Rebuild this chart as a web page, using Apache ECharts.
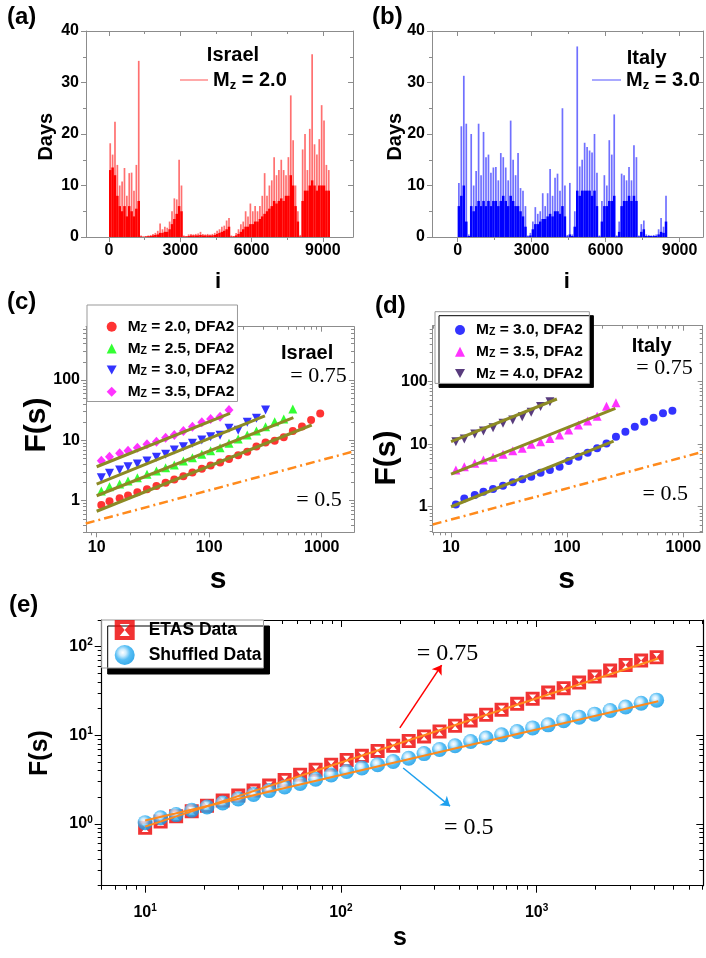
<!DOCTYPE html>
<html>
<head>
<meta charset="utf-8">
<script src="https://cdn.jsdelivr.net/npm/echarts@6/dist/echarts.min.js"></script>
<style>
html, body { margin: 0; padding: 0; background: #fff; }
#chart { width: 706px; height: 958px; }
</style>
</head>
<body>
<div id="chart"></div>
<script>
// (a),(b): inter-event times, summarised per bin of 100 events
var binWidth = 100;
var israelPeak = [18.2, 16, 22.4, 14, 10, 10.8, 13.4, 8, 12.4, 12.5, 9, 14, 34.2,
    0.3, 0.1, 0.2, 0.3, 0.4, 0.6, 0.8, 1.2,
    2.6, 1.5, 2.0, 1.8, 3.0, 5.0, 7.5, 7.3, 15, 10,
    0.3, 0.2, 0.5, 0.6, 0.5, 0.6, 0.7, 1.0, 0.6, 0.5, 0.6, 0.5, 0.6, 0.8, 1.2, 1.5, 2.0, 2.2, 3.2, 3.7,
    0.3, 0.2, 0.8, 1.5, 2.5, 3.0, 5.0, 4.0, 6.5, 5.0, 6.0, 5.0,
    6, 8, 12.4, 8, 10, 11, 15.5, 12, 13, 15, 13, 12, 15.5, 27.5, 18.8, 10, 5, 0.4,
    17, 20, 13, 21, 35.5, 18, 16, 19, 25.6, 22.6, 14, 13];
var israelBody = [13, 13.5, 12, 8, 6, 5, 6, 4, 6, 5, 4, 5.5, 7,
    0.1, 0.05, 0.1, 0.15, 0.2, 0.3, 0.4, 0.5,
    0.8, 0.8, 1.0, 1.0, 1.5, 2.5, 3.5, 4.5, 6, 5,
    0.1, 0.1, 0.2, 0.3, 0.3, 0.3, 0.3, 0.4, 0.3, 0.3, 0.3, 0.3, 0.3, 0.4, 0.6, 0.8, 1.0, 1.2, 1.5, 2.0,
    0.1, 0.1, 0.3, 0.6, 1.0, 1.5, 2.0, 2.0, 2.5, 2.5, 3.0, 3.0,
    3.5, 4, 4.5, 5, 5.5, 6, 7, 6.5, 7, 7.5, 7, 8, 8, 12, 10, 6, 3, 0.1,
    7, 9, 9, 10, 11, 10, 9, 10, 10, 10, 9, 9];
var italyPeak = [10.5, 21.5, 31.3, 22, 0.5, 20, 10, 12.8, 22, 12,
    20.4, 15.5, 16, 12.5, 13.5, 13.6, 11, 16.3, 15.5, 13.5,
    11, 22.6, 15, 12, 16.3, 9.5, 9, 6, 0.3, 0.8,
    3, 5.8, 4.5, 5, 8.5, 6, 8.5, 13.2, 8, 11.5,
    12.3, 9, 25, 10, 0.4, 10.5, 0.5, 5, 37, 13.7,
    15, 18.3, 17.5, 16.8, 16.4, 20, 12.5, 0.3, 7, 12,
    10, 18.8, 16, 23.8, 0.3, 3, 12.3, 12, 11, 13.6,
    11, 17.8, 15.5, 0.3, 2.5, 3.2, 0.5, 0.4, 0.3, 0.4,
    0.5, 1.5, 3.7, 2, 8];
var italyBody = [6, 8, 10, 3, 0.2, 6, 5, 6, 7, 6,
    7, 6, 7, 6, 7, 7, 6, 7, 8, 7,
    6, 8, 7, 6, 6, 5, 4, 2, 0.1, 0.3,
    1.5, 2.5, 2.5, 3, 3.5, 3.5, 4, 4.5, 4, 5,
    5, 4.5, 6, 4, 0.1, 0.5, 0.2, 2, 9, 8,
    9, 9, 9, 9, 8, 9, 6, 0.1, 3, 6,
    6, 7, 7, 8, 0.1, 1, 6, 7, 7, 8,
    7, 8, 7, 0.1, 1, 1.5, 0.2, 0.2, 0.2, 0.2,
    0.2, 0.5, 1, 0.8, 3];

// (c),(d): DFA2 fluctuation functions
var sGrid = [11, 13, 16, 19, 23, 28, 34, 41, 49, 59, 71, 86, 103, 125, 150, 181, 218, 263, 317, 382, 460, 554, 668, 805, 970];
var fIsrael20 = [0.85, 0.98, 1.1, 1.22, 1.38, 1.55, 1.75, 1.98, 2.25, 2.55, 2.95, 3.4, 3.85, 4.3, 4.9, 5.7, 6.5, 7.9, 9.2, 9.9, 11.3, 14.3, 17, 21.8, 28];
var fIsrael25 = [1.45, 1.71, 1.89, 2.12, 2.41, 2.74, 3.11, 3.53, 3.91, 4.55, 5.17, 5.88, 6.75, 7.57, 8.94, 10.5, 12.3, 14.3, 16.9, 20.4, 22.6, 33];
var fIsrael30 = [2.41, 2.85, 3.23, 3.66, 4.06, 4.55, 5.25, 5.88, 6.93, 7.87, 8.94, 10.2, 11.5, 12.2, 15.9, 14.8, 20, 23.3, 31.9];
var fIsrael35 = [4.61, 5.37, 6.1, 6.75, 7.57, 8.61, 9.5, 11.1, 12.3, 14.3, 16.9, 20, 22.6, 24.7, 31.9];
var fitIsrael20 = [[10, 0.67], [815, 18]];
var fitIsrael25 = [[10, 1.21], [560, 23.8]];
var fitIsrael30 = [[10, 1.89], [313, 25.4]];
var fitIsrael35 = [[10, 3.66], [153, 28.1]];
var halfIsrael = [[8, 0.42], [1940, 6.6]];

var fItaly30 = [1.09, 1.36, 1.54, 1.74, 1.92, 2.17, 2.46, 2.74, 3.02, 3.5, 3.87, 4.37, 5.38, 6.31, 7.31, 8.6, 10.3, 13.2, 15.8, 19.1, 22.9, 26.5, 31.2, 34.4];
var fItaly35 = [3.87, 4.37, 4.95, 5.58, 6.17, 6.89, 7.87, 8.6, 9.96, 11.0, 12.4, 14.0, 16.9, 20.3, 23.5, 28, 40.5, 46];
var fItaly40 = [11, 12.1, 14.6, 16.3, 18.4, 21.6, 24.4, 27.5, 32.4, 40, 48];
var fitItaly30 = [[10, 1.0], [251, 11.2]];
var fitItaly35 = [[10, 3.33], [260, 37.5]];
var fitItaly40 = [[10, 11], [81.5, 52.9]];
var halfItaly = [[6.95, 0.52], [1470, 7.55]];

// (e): ETAS vs shuffled
var sEtas = [10, 12, 14.4, 17.3, 20.7, 24.9, 29.9, 35.8, 43, 51.6, 61.9, 74.3, 89.2, 107, 128, 154, 185,
    222, 266, 319, 383, 460, 552, 662, 795, 954, 1145, 1374, 1648, 1978, 2373, 2848, 3418, 4101];
var fEtas = [0.90, 1.06, 1.22, 1.39, 1.60, 1.83, 2.08, 2.37, 2.70, 3.12, 3.58, 4.08, 4.65, 5.25, 5.85, 6.65, 7.6,
    8.6, 9.7, 11.0, 12.8, 14.7, 17.0, 19.4, 22.6, 25.8, 30.3, 34.0, 39.3, 45.9, 53.7, 62.2, 69.6, 75.9];
var fShuffled = [1.03, 1.17, 1.27, 1.42, 1.55, 1.72, 1.91, 2.14, 2.37, 2.61, 2.85, 3.18, 3.55, 3.9, 4.27, 4.65, 5.05,
    5.5, 6.2, 6.9, 7.6, 8.5, 9.3, 10.1, 11.0, 12.1, 13.1, 14.6, 16.0, 17.3, 19.0, 20.8, 23.0, 24.9];
var fitEtas = [[10, 0.93], [4180, 73.5]];
var fitShuffled = [[10, 1.09], [4180, 24.2]];
var arrowEtas = [[200, 12.1], [327, 62]];
var arrowShuffled = [[208, 4.27], [361, 1.58]];

var FONT = '"Liberation Sans", Arial, sans-serif';
var SERIF = '"Liberation Serif", "Times New Roman", serif';
var GREY = '#8c8c8c';
var OLIVE = '#8c8a24';
var ORANGE = '#ff8a1c';

function pairs(s, f) {
    return f.map(function (v, i) { return [s[i], v]; });
}
function bins(list) {
    return list.map(function (v, i) { return [i * binWidth + binWidth / 2, v]; });
}
function logMinors(lo, hi) {
    var out = [];
    for (var e = -1; e <= 4; e++) {
        for (var k = 2; k <= 9; k++) {
            var v = +(k * Math.pow(10, e)).toPrecision(6);
            if (v >= lo && v <= hi) out.push(v);
        }
    }
    return out;
}
function plainFmt(v) { return String(v); }
function powFmt(v) { return '{b|10}{s|' + Math.round(Math.log(v) / Math.LN10) + '}'; }

var xAxes = [], yAxes = [];
function makeAxis(p, pos, ticks, len, showLine, showLabel) {
    var horiz = pos === 'bottom' || pos === 'top';
    var range = horiz ? p.x : p.y;
    var a = {
        type: p.type, gridIndex: p.grid, position: pos,
        min: range[0], max: range[1],
        axisLine: { show: showLine, onZero: false, lineStyle: { color: p.color, width: p.lineW || 1 } },
        axisTick: { show: true, inside: pos === 'top' || pos === 'right', length: len,
            customValues: ticks, lineStyle: { color: p.color, width: 1 } },
        axisLabel: { show: false },
        splitLine: { show: false }
    };
    if (p.type === 'log') a.logBase = 10;
    if (showLabel) {
        a.axisLabel = {
            show: true, customValues: ticks, margin: horiz ? p.xMargin : p.yMargin,
            color: '#000', fontFamily: FONT, fontWeight: 'bold', fontSize: 16,
            formatter: p.fmt, rich: p.rich
        };
    }
    return a;
}
function frame(p) {
    var ix = xAxes.length, iy = yAxes.length;
    var big = p.major || 5, small = p.minor || 3;
    xAxes.push(makeAxis(p, 'bottom', p.xMajor, big, true, true));
    xAxes.push(makeAxis(p, 'bottom', p.xMinor, small, false, false));
    xAxes.push(makeAxis(p, 'top', p.xMajor, big, true, false));
    xAxes.push(makeAxis(p, 'top', p.xMinor, small, false, false));
    yAxes.push(makeAxis(p, 'left', p.yMajor, big, true, true));
    yAxes.push(makeAxis(p, 'left', p.yMinor, small, false, false));
    yAxes.push(makeAxis(p, 'right', p.yMajor, big, true, false));
    yAxes.push(makeAxis(p, 'right', p.yMinor, small, false, false));
    return { x: ix, y: iy, top: ix + 2 };
}

var fa = frame({ grid: 0, type: 'value', x: [-970, 10270], y: [0, 40],
    xMajor: [0, 3000, 6000, 9000], xMinor: [1500, 4500, 7500],
    yMajor: [0, 10, 20, 30, 40], yMinor: [5, 15, 25, 35],
    color: GREY, xMargin: 6, yMargin: 7, fmt: plainFmt });
var fb = frame({ grid: 1, type: 'value', x: [-1040, 9950], y: [0, 40],
    xMajor: [0, 3000, 6000, 9000], xMinor: [1500, 4500, 7500],
    yMajor: [0, 10, 20, 30, 40], yMinor: [5, 15, 25, 35],
    color: GREY, xMargin: 6, yMargin: 7, fmt: plainFmt });
var fc = frame({ grid: 2, type: 'log', x: [8.04, 1937], y: [0.3, 766],
    xMajor: [10, 100, 1000], xMinor: logMinors(8.04, 1937),
    yMajor: [1, 10, 100], yMinor: logMinors(0.3, 766),
    color: GREY, xMargin: 7, yMargin: 6, fmt: plainFmt });
var fd = frame({ grid: 3, type: 'log', x: [6.95, 1468], y: [0.39, 787],
    xMajor: [10, 100, 1000], xMinor: logMinors(6.95, 1468),
    yMajor: [1, 10, 100], yMinor: logMinors(0.39, 787),
    color: GREY, xMargin: 7, yMargin: 5, fmt: plainFmt });
var powRich = {
    b: { fontSize: 16, fontWeight: 'bold', fontFamily: FONT, lineHeight: 18, color: '#000' },
    s: { fontSize: 10, fontWeight: 'bold', fontFamily: FONT, lineHeight: 10, verticalAlign: 'top', color: '#000' }
};
var fe = frame({ grid: 4, type: 'log', x: [6.0, 7100], y: [0.2, 200],
    xMajor: [10, 100, 1000], xMinor: logMinors(6.0, 7100),
    yMajor: [1, 10, 100], yMinor: logMinors(0.2, 200),
    color: '#000', lineW: 1.2, major: 7, minor: 4, xMargin: 18, yMargin: 9, fmt: powFmt, rich: powRich });

function scatter(name, f, s, xy, symbol, size, color, extra) {
    var o = { type: 'scatter', name: name, xAxisIndex: xy.x, yAxisIndex: xy.y,
        symbol: symbol, symbolSize: size, itemStyle: { color: color }, data: pairs(s, f) };
    for (var k in extra || {}) o[k] = extra[k];
    return o;
}
function fitLine(data, xy, color, width, type) {
    return { type: 'line', xAxisIndex: xy.x, yAxisIndex: xy.y, data: data, symbol: 'none',
        lineStyle: { color: color, width: width, type: type || 'solid' }, z: 3 };
}

var DOWN = 'path://M0,0L10,0L5,9Z';
var ETAS_SYM = 'path://M0,0L20,0L20,20L0,20Z M5,4L10,10L15,4Z M5,16L15,16L10,10Z';
var ballColor = { type: 'radial', x: 0.4, y: 0.38, r: 0.62, colorStops: [
    { offset: 0, color: '#ffffff' }, { offset: 0.28, color: '#bfe6fc' },
    { offset: 0.6, color: '#2eaef2' }, { offset: 1, color: '#0a98e6' }] };

var series = [
    { type: 'bar', name: 'israel', xAxisIndex: fa.top, yAxisIndex: fa.y, barWidth: 1.7,
      data: bins(israelPeak), itemStyle: { color: '#ff7070' } },
    { type: 'bar', name: 'israelBody', xAxisIndex: fa.x, yAxisIndex: fa.y, barWidth: 2.5,
      data: bins(israelBody), itemStyle: { color: '#ff0000' } },
    { type: 'bar', name: 'italy', xAxisIndex: fb.top, yAxisIndex: fb.y, barWidth: 1.7,
      data: bins(italyPeak), itemStyle: { color: '#7070ff' } },
    { type: 'bar', name: 'italyBody', xAxisIndex: fb.x, yAxisIndex: fb.y, barWidth: 2.5,
      data: bins(italyBody), itemStyle: { color: '#0000ff' } },

    scatter('c20', fIsrael20, sGrid, fc, 'circle', 8, '#ff0000'),
    scatter('c25', fIsrael25, sGrid, fc, 'triangle', 9, '#00ff00'),
    scatter('c30', fIsrael30, sGrid, fc, DOWN, 9, '#0000ff'),
    scatter('c35', fIsrael35, sGrid, fc, 'diamond', [9, 10], '#ff00ff'),
    fitLine(halfIsrael, fc, ORANGE, 2.5, [9, 4, 2, 4]),
    fitLine(fitIsrael20, fc, OLIVE, 3),
    fitLine(fitIsrael25, fc, OLIVE, 3),
    fitLine(fitIsrael30, fc, OLIVE, 3),
    fitLine(fitIsrael35, fc, OLIVE, 3),

    scatter('d30', fItaly30, sGrid, fd, 'circle', 8, '#0000ff'),
    scatter('d35', fItaly35, sGrid, fd, 'triangle', 9, '#ff00ff'),
    scatter('d40', fItaly40, sGrid, fd, DOWN, 9, '#2e0a5c'),
    fitLine(halfItaly, fd, ORANGE, 2.5, [9, 4, 2, 4]),
    fitLine(fitItaly30, fd, OLIVE, 3),
    fitLine(fitItaly35, fd, OLIVE, 3),
    fitLine(fitItaly40, fd, OLIVE, 3),

    scatter('ETAS Data', fEtas, sEtas, fe, ETAS_SYM, 14, '#ee0000'),
    scatter('Shuffled Data', fShuffled, sEtas, fe, 'circle', 15, ballColor),
    fitLine(fitEtas, fe, ORANGE, 2),
    fitLine(fitShuffled, fe, ORANGE, 2)
];
// arrows pointing at the slope labels
series[series.length - 1].markLine = {
    silent: true, symbol: ['none', 'arrow'], symbolSize: 9, label: { show: false },
    data: [
        [{ coord: arrowEtas[0], lineStyle: { color: '#ff0000', width: 1.5, type: 'solid' } },
         { coord: arrowEtas[1] }],
        [{ coord: arrowShuffled[0], lineStyle: { color: '#1ea0ee', width: 1.5, type: 'solid' } },
         { coord: arrowShuffled[1] }]
    ]
};

var mz = { c20: '2.0', c25: '2.5', c30: '3.0', c35: '3.5', d30: '3.0', d35: '3.5', d40: '4.0' };
var subRich = function (big, small, lh) {
    return {
        m: { fontSize: big, fontWeight: 'bold', fontFamily: FONT, lineHeight: lh, color: '#000' },
        z: { fontSize: small, fontWeight: 'bold', fontFamily: FONT, lineHeight: small, verticalAlign: 'bottom', color: '#000' }
    };
};
var legends = [
    { data: ['israel'], left: 180, top: 70, padding: 0, icon: 'rect', itemWidth: 28, itemHeight: 1.2,
      selectedMode: false, formatter: function () { return '{m|M}{z|z}{m| = 2.0}'; },
      textStyle: { rich: subRich(20, 13, 24) } },
    { data: ['italy'], left: 592, top: 70, padding: 0, icon: 'rect', itemWidth: 29, itemHeight: 1.2,
      selectedMode: false, formatter: function () { return '{m|M}{z|z}{m| = 3.0}'; },
      textStyle: { rich: subRich(20, 13, 24) } },
    { data: ['c20', 'c25', 'c30', 'c35'], orient: 'vertical', left: 87, top: 305,
      padding: [13.7, 3, 1.7, 19.7], itemGap: 5.7, itemWidth: 10, itemHeight: 10, selectedMode: false,
      backgroundColor: '#fff', borderColor: '#999', borderWidth: 1,
      formatter: function (n) { return '{m|M}{z|Z}{m| = ' + mz[n] + ', DFA2}'; },
      textStyle: { padding: [0, 0, 0, 6], rich: subRich(15.5, 10.5, 16) } },
    { data: ['d30', 'd35', 'd40'], orient: 'vertical', left: 435, top: 311.7,
      padding: [10.3, 6.6, 2, 20], itemGap: 5.7, itemWidth: 10, itemHeight: 10, selectedMode: false,
      backgroundColor: '#fff', borderColor: '#999', borderWidth: 1,
      shadowColor: '#000', shadowOffsetX: 4, shadowOffsetY: 4, shadowBlur: 0,
      formatter: function (n) { return '{m|M}{z|Z}{m| = ' + mz[n] + ', DFA2}'; },
      textStyle: { padding: [0, 0, 0, 6], rich: subRich(15.5, 10.5, 16) } },
    { data: ['ETAS Data', 'Shuffled Data'], orient: 'vertical', left: 101.7, top: 620,
      padding: [0, 2, 3, 13], itemGap: 5, itemWidth: 22, itemHeight: 20, selectedMode: false,
      backgroundColor: '#fff', borderColor: '#999', borderWidth: 1,
      shadowColor: '#000', shadowOffsetX: 6, shadowOffsetY: 6, shadowBlur: 0,
      textStyle: { padding: [0, 0, 0, 8], fontSize: 17.5, fontWeight: 'bold', fontFamily: FONT, color: '#000' } }
];

function txt(s, x, y, font, align, rot) {
    return { type: 'text', x: x, y: y, rotation: rot || 0, z: 50, silent: true,
        style: { text: s, font: font, fill: '#000', align: align || 'center', verticalAlign: 'middle' } };
}
var B = function (px) { return 'bold ' + px + 'px ' + FONT; };
var T = function (px) { return px + 'px ' + SERIF; };
var V = Math.PI / 2;
var notes = [
    txt('(a)', 7, 17.5, B(24), 'left'),
    txt('(b)', 372, 17.5, B(24), 'left'),
    txt('(c)', 7, 302.5, B(24), 'left'),
    txt('(d)', 375, 306, B(24), 'left'),
    txt('(e)', 9, 605, B(24), 'left'),
    txt('Israel', 233, 55, B(20)),
    txt('Italy', 646.7, 58.3, B(20)),
    txt('Days', 46.7, 136.7, B(20), 'center', V),
    txt('Days', 395, 136.7, B(20), 'center', V),
    txt('i', 218, 282, B(22)),
    txt('i', 566.7, 282, B(22)),
    txt('Israel', 333.3, 353, B(20), 'right'),
    txt('= 0.75', 346.7, 376, T(22), 'right'),
    txt('= 0.5', 341.7, 500, T(22), 'right'),
    txt('Italy', 671.7, 346.7, B(20), 'right'),
    txt('= 0.75', 692.7, 368, T(22), 'right'),
    txt('= 0.5', 688, 494, T(22), 'right'),
    txt('F(s)', 36.7, 425, B(30), 'center', V),
    txt('F(s)', 386.7, 458, B(30), 'center', V),
    txt('s', 218, 580, B(30)),
    txt('s', 566.7, 580, B(30)),
    txt('F(s)', 40, 753, B(25), 'center', V),
    txt('s', 400, 938, B(25)),
    txt('= 0.75', 416.7, 654, T(24), 'left'),
    txt('= 0.5', 444, 828, T(24), 'left')
];

var option = {
    animation: false,
    backgroundColor: '#fff',
    textStyle: { fontFamily: FONT },
    grid: [
        { left: 86, top: 31, width: 267, height: 206 },
        { left: 432, top: 31, width: 271, height: 206 },
        { left: 86, top: 326.7, width: 268, height: 205.6 },
        { left: 432.7, top: 325.7, width: 270, height: 206.6 },
        { left: 101.7, top: 620, width: 601.6, height: 265.7 }
    ],
    xAxis: xAxes,
    yAxis: yAxes,
    legend: legends,
    series: series,
    graphic: notes
};

var myChart = echarts.init(document.getElementById('chart'));
myChart.setOption(option);
</script>
</body>
</html>
